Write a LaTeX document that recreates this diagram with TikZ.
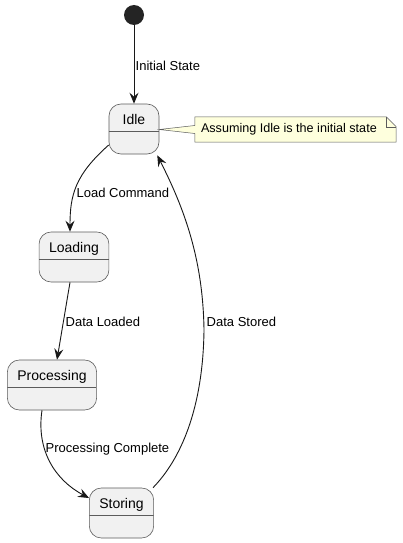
\documentclass[tikz,border=0pt]{standalone}
\usepackage{fontspec}
\setmainfont{Liberation Sans}
\usepackage{tikz}
\usetikzlibrary{arrows.meta,positioning,calc}
\definecolor{stategray}{HTML}{F1F1F1}
\definecolor{edgegray}{HTML}{5B5B5B}
\definecolor{inkdark}{HTML}{181818}
\definecolor{noteyellow}{HTML}{FEFFDD}

\begin{document}
\begin{tikzpicture}[
    x=1pt, y=-1pt,
    statebox/.style={draw=edgegray, fill=stategray, line width=0.6pt, rounded corners=12pt,
        minimum width=50pt, inner xsep=10pt, inner ysep=0pt, text height=20pt, text depth=30pt,
        font=\fontsize{14}{16}\selectfont,
        path picture={\draw[edgegray, line width=0.5pt]
            ([yshift=-27pt]path picture bounding box.north west) --
            ([yshift=-27pt]path picture bounding box.north east);}},
    arrow/.style={-{Stealth[length=11pt, width=9pt, inset=4pt]}, line width=0.9pt, draw=inkdark},
    lbl/.style={anchor=west, inner sep=0pt, font=\fontsize{13}{15}\selectfont},
    notebox/.style={inner sep=0pt, minimum width=201pt, minimum height=25pt, font=\fontsize{12.6}{15}\selectfont}
]
\useasboundingbox (0,0) rectangle (402,543);
\fill[white] (0,0) rectangle (402,543);

\node[circle, fill=inkdark!95, minimum size=20pt, inner sep=0pt] (start) at (134,15) {};
\node[statebox] (idle) at (134,129) {Idle};
\node[statebox] (load) at (74,257) {Loading};
\node[statebox] (proc) at (52,385) {Processing};
\node[statebox] (store) at (121.5,513) {Storing};

% note on Idle
\node[notebox] (note) at (295.5,129.5) {};
\draw[edgegray, line width=0.5pt, fill=noteyellow]
    (note.north west) -- ($(note.north east)+(-10,0)$) -- ($(note.north east)+(0,10)$)
    -- (note.south east) -- (note.south west) -- ($(note.west)+(0,4)$)
    -- ($(idle.east)+(0,0.5)$) -- ($(note.west)+(0,-4)$) -- cycle;
\draw[edgegray, line width=0.5pt]
    ($(note.north east)+(-10,0)$) -- ($(note.north east)+(-10,10)$) -- ($(note.north east)+(0,10)$);
\node[notebox, minimum width=0pt, anchor=west] (notetext) at ($(note.west)+(6,0)$) {Assuming Idle is the initial state};

% transitions
\draw[arrow] (start) -- (idle);
\draw[arrow] ($(idle.west)+(0,16)$) .. controls (75,175) and (70,195) .. ($(load.north)+(-4,0)$);
\draw[arrow] ($(load.south)+(-4,0)$) -- ($(proc.north)+(5,0)$);
\draw[arrow] ($(proc.south)+(-10,0)$) .. controls (36,450) and (55,480) .. ($(store.west)+(0,-15)$);
\draw[arrow] ($(store.north east)+(-1,0)$) .. controls (180,460) and (203,410) .. (204,330)
    .. controls (203,260) and (185,210) .. ($(idle.south east)+(-2,1)$);

% labels
\node[lbl] (lInit) at (135.5,66) {Initial State};
\node[lbl] (lLoadCmd) at (76.5,193) {Load Command};
\node[lbl] (lLoaded) at (65.5,322) {Data Loaded};
\node[lbl] (lDone) at (45.5,449) {Processing Complete};
\node[lbl] (lStored) at (206.5,322) {Data Stored};
\end{tikzpicture}
\end{document}
